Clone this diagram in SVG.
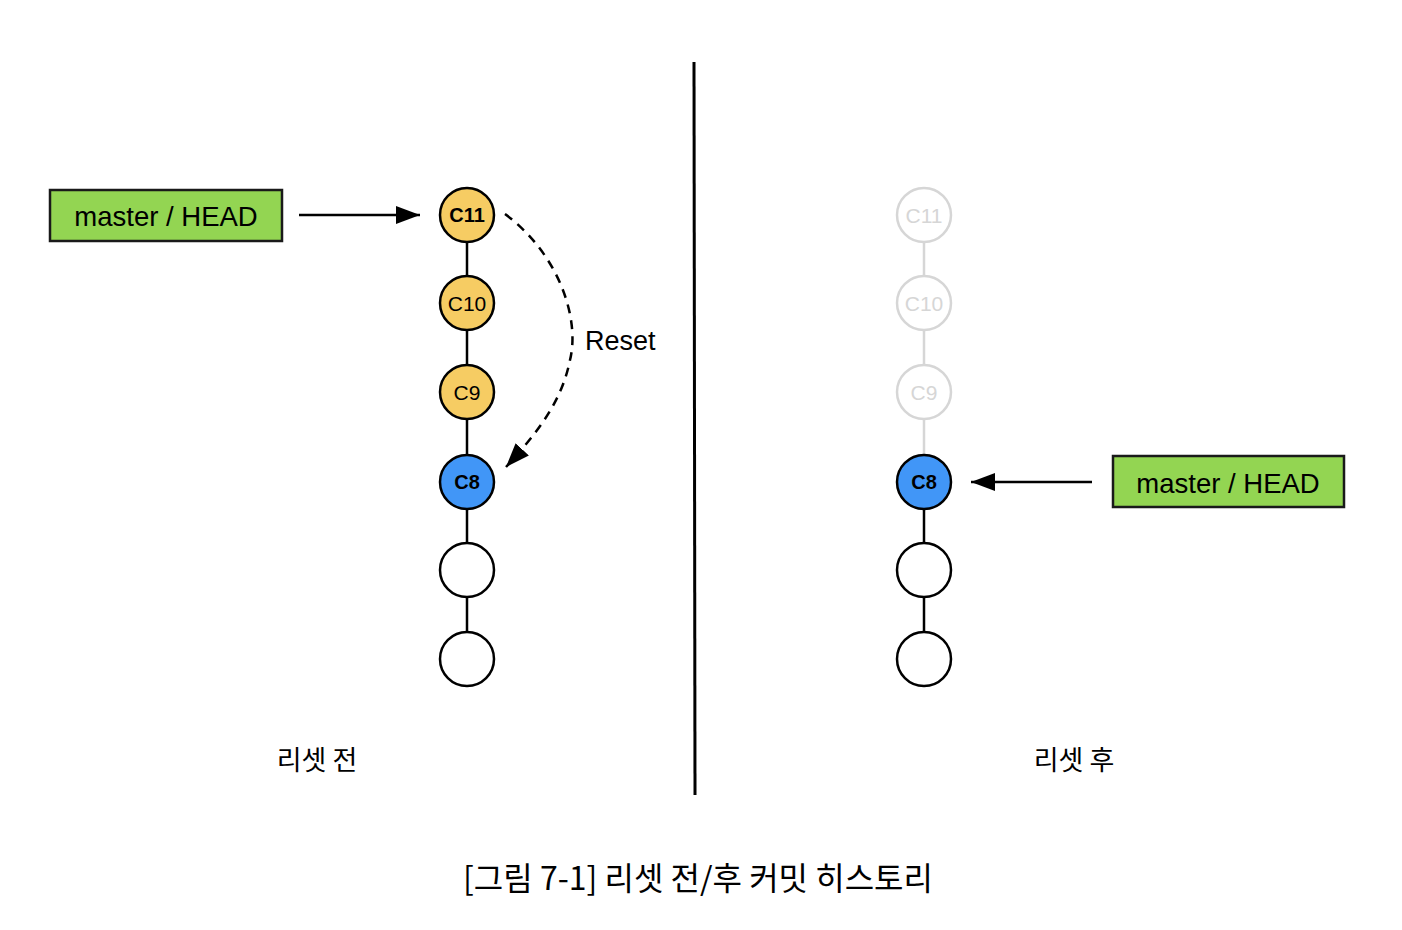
<svg xmlns="http://www.w3.org/2000/svg" width="1402" height="930" viewBox="0 0 1402 930">
<defs>
<marker id="ah" viewBox="0 0 24 18" refX="24" refY="9" markerWidth="24" markerHeight="18" markerUnits="userSpaceOnUse" orient="auto">
<path d="M0,0 L24,9 L0,18 Z" fill="#000"/>
</marker>
<style>
.lbl{fill:#93d552;stroke:#1a1a1a;stroke-width:2.5}
.lt{font-family:"Liberation Sans",Arial,sans-serif;font-size:27.5px;fill:#000;text-anchor:middle}
.c{stroke:#000;stroke-width:2.5}
.y{fill:#f6cc63}
.b{fill:#4196f7}
.w{fill:#fff}
.g{fill:#fff;stroke:#d6d6d6;stroke-width:2.5}
.ct{font-family:"Liberation Sans",Arial,sans-serif;font-size:21px;text-anchor:middle;fill:#000}
.bold{font-weight:bold;font-size:20px}
.gt{fill:#d6d6d6}
.kr{font-family:"Noto Sans CJK KR","Noto Sans",sans-serif;fill:#000;text-anchor:middle}
.edge{stroke:#000;stroke-width:2.5;fill:none}
.gedge{stroke:#d6d6d6;stroke-width:2.5;fill:none}
</style>
</defs>
<rect width="1402" height="930" fill="#fff"/>
<g id="connectors">
<line class="edge" x1="467" y1="242" x2="467" y2="276"/>
<line class="edge" x1="467" y1="330" x2="467" y2="365"/>
<line class="edge" x1="467" y1="419" x2="467" y2="455"/>
<line class="edge" x1="467" y1="509" x2="467" y2="543"/>
<line class="edge" x1="467" y1="597" x2="467" y2="632"/>
<line class="gedge" x1="924" y1="242" x2="924" y2="276"/>
<line class="gedge" x1="924" y1="330" x2="924" y2="365"/>
<line class="gedge" x1="924" y1="419" x2="924" y2="455"/>
<line class="edge" x1="924" y1="509" x2="924" y2="543"/>
<line class="edge" x1="924" y1="597" x2="924" y2="632"/>
<line class="edge" x1="299" y1="215" x2="420" y2="215" marker-end="url(#ah)"/>
<line class="edge" x1="1092" y1="482" x2="971" y2="482" marker-end="url(#ah)"/>
<path class="edge" d="M505,214 C560,255 580,320 570,360 C562,400 540,430 506,467" stroke-dasharray="9,7" marker-end="url(#ah)"/>
<text x="585" y="350" font-family="Liberation Sans,Arial,sans-serif" font-size="27" fill="#000">Reset</text>
<path d="M694,62 L695,795" stroke="#000" stroke-width="3" fill="none"/>
</g>
<g id="label-left">
<rect class="lbl" x="50" y="190" width="232" height="51"/>
<text class="lt" x="166" y="226">master / HEAD</text>
</g>
<g id="label-right">
<rect class="lbl" x="1113" y="456" width="231" height="51"/>
<text class="lt" x="1228" y="493">master / HEAD</text>
</g>
<g id="L-C11"><circle class="c y" cx="467" cy="215" r="27"/><text class="ct bold" x="467" y="222">C11</text></g>
<g id="L-C10"><circle class="c y" cx="467" cy="303" r="27"/><text class="ct" x="467" y="311">C10</text></g>
<g id="L-C9"><circle class="c y" cx="467" cy="392" r="27"/><text class="ct" x="467" y="400">C9</text></g>
<g id="L-C8"><circle class="c b" cx="467" cy="482" r="27"/><text class="ct bold" x="467" y="489">C8</text></g>
<g id="L-C7"><circle class="c w" cx="467" cy="570" r="27"/></g>
<g id="L-C6"><circle class="c w" cx="467" cy="659" r="27"/></g>
<g id="R-C11"><circle class="g" cx="924" cy="215" r="27"/><text class="ct gt" x="924" y="223">C11</text></g>
<g id="R-C10"><circle class="g" cx="924" cy="303" r="27"/><text class="ct gt" x="924" y="311">C10</text></g>
<g id="R-C9"><circle class="g" cx="924" cy="392" r="27"/><text class="ct gt" x="924" y="400">C9</text></g>
<g id="R-C8"><circle class="c b" cx="924" cy="482" r="27"/><text class="ct bold" x="924" y="489">C8</text></g>
<g id="R-C7"><circle class="c w" cx="924" cy="570" r="27"/></g>
<g id="R-C6"><circle class="c w" cx="924" cy="659" r="27"/></g>
<text class="kr" x="317" y="770" font-size="27">리셋 전</text>
<text class="kr" x="1074" y="770" font-size="27">리셋 후</text>
<text class="kr" x="698" y="890" font-size="32">[그림 7-1] 리셋 전/후 커밋 히스토리</text>
</svg>
